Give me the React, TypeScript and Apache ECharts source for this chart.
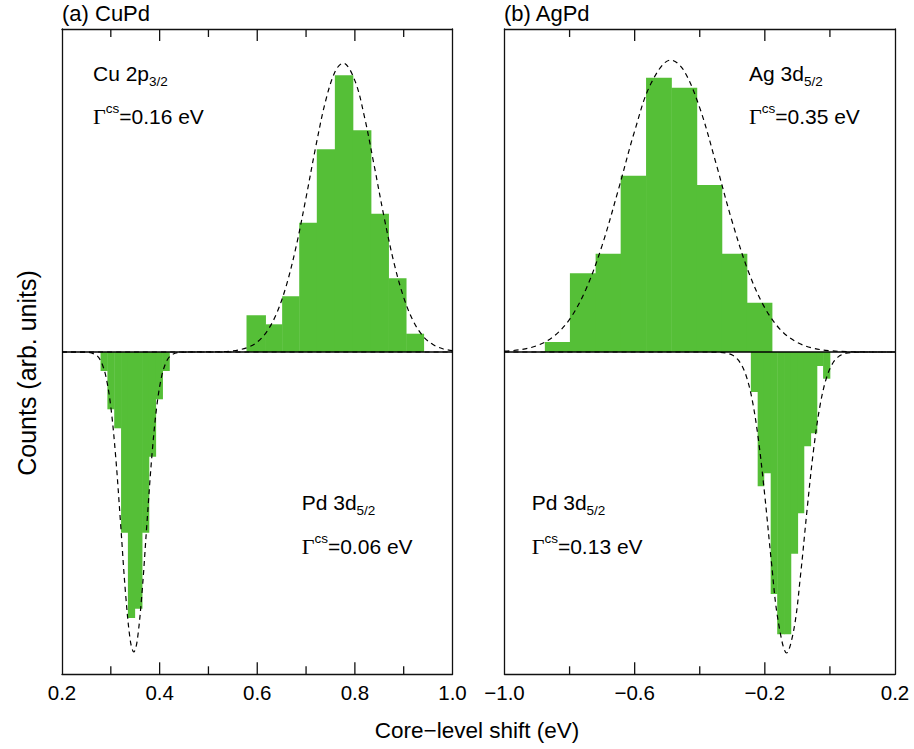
import React, { useEffect, useRef } from "react";
import * as echarts from "echarts";

// ---------- data ----------
// (a) CuPd, Cu 2p3/2 histogram (bin edges in eV, counts in arb. units)
const cuEdges = [0.578, 0.617, 0.651, 0.686, 0.722, 0.759, 0.796, 0.833, 0.869, 0.905, 0.941];
const cuCounts = [0.367, 0.277, 0.557, 1.293, 2.027, 2.767, 2.217, 1.383, 0.737, 0.183];
// (a) CuPd, Pd 3d5/2 histogram (drawn downward)
const pdAEdges = [0.279, 0.293, 0.307, 0.321, 0.335, 0.349, 0.364, 0.378, 0.392, 0.406, 0.42];
const pdACounts = [-0.19, -0.573, -0.763, -1.807, -2.66, -2.567, -1.807, -1.047, -0.473, -0.19];
// (b) AgPd, Ag 3d5/2 histogram
const agEdges = [-0.876, -0.799, -0.72, -0.643, -0.565, -0.487, -0.409, -0.332, -0.255, -0.178];
const agCounts = [0.1, 0.787, 0.983, 1.763, 2.743, 2.643, 1.67, 0.983, 0.493];
// (b) AgPd, Pd 3d5/2 histogram (drawn downward)
const pdBEdges = [-0.243, -0.222, -0.203, -0.182, -0.162, -0.141, -0.12, -0.099, -0.08, -0.059, -0.04, -0.021, 0.0];
const pdBCounts = [-0.4, -1.343, -1.213, -2.42, -2.823, -2.823, -2.017, -1.613, -0.943, -0.813, -0.14, -0.267];

// dashed fitted curves
const cuCurveX = [0.2, 0.3, 0.4, 0.5, 0.55, 0.58, 0.6, 0.62, 0.64, 0.66, 0.68, 0.7, 0.72, 0.74, 0.76, 0.776, 0.8, 0.82, 0.84, 0.86, 0.88, 0.9, 0.92, 0.94, 0.96, 0.98, 1.0];
const cuCurveY = [0, 0, 0, 0.001, 0.011, 0.045, 0.1, 0.207, 0.389, 0.672, 1.063, 1.545, 2.057, 2.51, 2.81, 2.89, 2.714, 2.343, 1.853, 1.345, 0.894, 0.546, 0.305, 0.156, 0.074, 0.032, 0.013];
const pdACurveX = [0.2, 0.25, 0.27, 0.28, 0.29, 0.3, 0.31, 0.32, 0.33, 0.34, 0.347, 0.354, 0.364, 0.374, 0.384, 0.394, 0.404, 0.414, 0.424, 0.44, 0.47, 0.6, 0.8, 1.0];
const pdACurveY = [0, -0.002, -0.031, -0.095, -0.247, -0.549, -1.047, -1.713, -2.402, -2.889, -3.0, -2.889, -2.402, -1.713, -1.047, -0.549, -0.247, -0.095, -0.031, -0.004, 0, 0, 0, 0];
const agCurveX = [-1.0, -0.95, -0.9, -0.85, -0.8, -0.75, -0.7, -0.65, -0.6, -0.55, -0.489, -0.45, -0.4, -0.35, -0.3, -0.25, -0.2, -0.15, -0.1, -0.05, 0.0, 0.05, 0.1, 0.15, 0.2];
const agCurveY = [0.008, 0.024, 0.064, 0.153, 0.327, 0.625, 1.066, 1.624, 2.21, 2.684, 2.92, 2.821, 2.441, 1.886, 1.3, 0.8, 0.441, 0.216, 0.095, 0.037, 0.013, 0.004, 0.001, 0, 0];
const pdBCurveX = [-1.0, -0.6, -0.4, -0.35, -0.32, -0.3, -0.28, -0.26, -0.24, -0.22, -0.2, -0.18, -0.16, -0.133, -0.11, -0.09, -0.07, -0.05, -0.03, -0.01, 0.01, 0.03, 0.05, 0.08, 0.12, 0.2];
const pdBCurveY = [0, 0, 0, -0.001, -0.01, -0.031, -0.087, -0.213, -0.46, -0.869, -1.44, -2.095, -2.67, -3.01, -2.76, -2.222, -1.57, -0.972, -0.528, -0.252, -0.105, -0.038, -0.012, -0.002, 0, 0];

// axis ranges and tick marks
const xTicksA = [0.2, 1.0];
const xTicksB = [-1.0, 0.2];
const yRange = [-3.223, 3.23];
const majorTicksA = [0.4, 0.6, 0.8];
const minorTicksA = [0.3, 0.5, 0.7, 0.9];
const majorTicksB = [-0.6, -0.2];
const minorTicksB = [-0.8, -0.4, 0.0];

const FONT = "'Liberation Sans', Arial, Helvetica, sans-serif";
const SERIF = "'Liberation Serif', 'Times New Roman', serif";
const GREEN = "#55bf37";
const INK = "#111";

function hist(edges: number[], counts: number[]) {
  return counts.map((c, i) => [edges[i], edges[i + 1], c]);
}
function pts(xs: number[], ys: number[]) {
  return xs.map((x, i) => [x, ys[i]]);
}

const renderBar = (params: any, api: any) => {
  const x0 = api.value(0);
  const x1 = api.value(1);
  const h = api.value(2);
  const p0 = api.coord([x0, h]);
  const p1 = api.coord([x1, 0]);
  const top = Math.min(p0[1], p1[1]);
  const height = Math.abs(p1[1] - p0[1]);
  return {
    type: "rect",
    shape: { x: p0[0], y: top, width: p1[0] - p0[0] + 0.4, height },
    style: { fill: GREEN },
  };
};

// inward tick marks on bottom and top edges; data = [tickValue, isMajor]
const renderTick = (params: any, api: any) => {
  const v = api.value(0);
  const major = api.value(1) > 0.5;
  const len = major ? 12 : 8;
  const b = api.coord([v, yRange[0]]);
  const t = api.coord([v, yRange[1]]);
  return {
    type: "group",
    children: [
      { type: "rect", shape: { x: b[0] - 0.65, y: b[1] - len, width: 1.3, height: len }, style: { fill: INK } },
      { type: "rect", shape: { x: t[0] - 0.65, y: t[1], width: 1.3, height: len }, style: { fill: INK } },
    ],
  };
};

function tickData(major: number[], minor: number[]) {
  return [...major.map((v) => [v, 1]), ...minor.map((v) => [v, 0])];
}

function xAxisCfg(grid: number, ticks: number[], interval: number, pos: "top" | "bottom") {
  return {
    type: "value",
    gridIndex: grid,
    position: pos,
    min: ticks[0],
    max: ticks[1],
    interval,
    axisLine: { show: true, onZero: false, lineStyle: { color: INK, width: 1.3 } },
    axisTick: { show: false },
    minorTick: { show: false },
    splitLine: { show: false },
    minorSplitLine: { show: false },
    axisLabel: {
      show: pos === "bottom",
      fontSize: 20.5,
      fontFamily: FONT,
      color: "#000",
      margin: 8,
      showMinLabel: true,
      showMaxLabel: true,
      formatter: (v: number) => (v < -1e-9 ? "\u2212" : "") + Math.abs(v).toFixed(1),
    },
  };
}

function yAxisCfg(grid: number, pos: "left" | "right") {
  return {
    type: "value",
    gridIndex: grid,
    position: pos,
    min: yRange[0],
    max: yRange[1],
    axisLine: { show: true, onZero: false, lineStyle: { color: INK, width: 1.3 } },
    axisTick: { show: false },
    axisLabel: { show: false },
    splitLine: { show: false },
  };
}

function label(x: number, y: number, main: string, sub: string) {
  return {
    type: "text",
    x,
    y,
    z: 100,
    style: {
      text: `{m|${main}}{s|${sub}}`,
      rich: {
        m: { fontSize: 21, lineHeight: 30, fontFamily: FONT, fill: "#000" },
        s: { fontSize: 13.5, verticalAlign: "bottom", fontFamily: FONT, fill: "#000" },
      },
      align: "left",
      verticalAlign: "middle",
      fill: "#000",
    },
  };
}

function gammaLabel(x: number, y: number, value: string) {
  return {
    type: "text",
    x,
    y,
    z: 100,
    style: {
      text: `{g|\u0393}{c|cs}{m|=${value}}`,
      rich: {
        g: { fontSize: 22, lineHeight: 30, fontFamily: SERIF, fill: "#000" },
        c: { fontSize: 13.5, verticalAlign: "top", fontFamily: FONT, fill: "#000" },
        m: { fontSize: 21, lineHeight: 30, fontFamily: FONT, fill: "#000" },
      },
      align: "left",
      verticalAlign: "middle",
      fill: "#000",
    },
  };
}

export default function App() {
  const ref = useRef<HTMLDivElement>(null);

  useEffect(() => {
    if (!ref.current) return;
    const chart = echarts.init(ref.current, null, { renderer: "svg" });

    const dashed = { color: "#000", width: 1.2, type: [5, 4] as any };
    const zero = { color: "#000", width: 1.3 };

    const option: any = {
      animation: false,
      backgroundColor: "#fff",
      grid: [
        { left: 62, top: 29, width: 390.5, height: 645.3, show: false },
        { left: 504.5, top: 29, width: 390.5, height: 645.3, show: false },
      ],
      xAxis: [
        xAxisCfg(0, xTicksA, 0.2, "bottom"),
        xAxisCfg(0, xTicksA, 0.2, "top"),
        xAxisCfg(1, xTicksB, 0.4, "bottom"),
        xAxisCfg(1, xTicksB, 0.4, "top"),
      ],
      yAxis: [yAxisCfg(0, "left"), yAxisCfg(0, "right"), yAxisCfg(1, "left"), yAxisCfg(1, "right")],
      series: [
        { type: "custom", xAxisIndex: 0, yAxisIndex: 0, renderItem: renderBar, encode: { x: [0, 1], y: 2 }, data: hist(cuEdges, cuCounts), z: 2 },
        { type: "custom", xAxisIndex: 0, yAxisIndex: 0, renderItem: renderBar, encode: { x: [0, 1], y: 2 }, data: hist(pdAEdges, pdACounts), z: 2 },
        { type: "custom", xAxisIndex: 2, yAxisIndex: 2, renderItem: renderBar, encode: { x: [0, 1], y: 2 }, data: hist(agEdges, agCounts), z: 2 },
        { type: "custom", xAxisIndex: 2, yAxisIndex: 2, renderItem: renderBar, encode: { x: [0, 1], y: 2 }, data: hist(pdBEdges, pdBCounts), z: 2 },
        { type: "line", xAxisIndex: 0, yAxisIndex: 0, data: [[xTicksA[0], 0], [xTicksA[1], 0]], symbol: "none", lineStyle: zero, z: 3 },
        { type: "line", xAxisIndex: 2, yAxisIndex: 2, data: [[xTicksB[0], 0], [xTicksB[1], 0]], symbol: "none", lineStyle: zero, z: 3 },
        { type: "line", xAxisIndex: 0, yAxisIndex: 0, data: pts(cuCurveX, cuCurveY), symbol: "none", smooth: 0.35, lineStyle: dashed, z: 4 },
        { type: "line", xAxisIndex: 0, yAxisIndex: 0, data: pts(pdACurveX, pdACurveY), symbol: "none", smooth: 0.35, lineStyle: dashed, z: 4 },
        { type: "line", xAxisIndex: 2, yAxisIndex: 2, data: pts(agCurveX, agCurveY), symbol: "none", smooth: 0.35, lineStyle: dashed, z: 4 },
        { type: "line", xAxisIndex: 2, yAxisIndex: 2, data: pts(pdBCurveX, pdBCurveY), symbol: "none", smooth: 0.35, lineStyle: dashed, z: 4 },
        { type: "custom", xAxisIndex: 0, yAxisIndex: 0, renderItem: renderTick, encode: { x: 0, y: 1 }, data: tickData(majorTicksA, minorTicksA), clip: false, silent: true, z: 6 },
        { type: "custom", xAxisIndex: 2, yAxisIndex: 2, renderItem: renderTick, encode: { x: 0, y: 1 }, data: tickData(majorTicksB, minorTicksB), clip: false, silent: true, z: 6 },
      ],
      graphic: [
        { type: "text", x: 62, y: 13, style: { text: "(a) CuPd", fontSize: 22, fontFamily: FONT, fill: "#000", align: "left", verticalAlign: "middle" } },
        { type: "text", x: 504, y: 13, style: { text: "(b) AgPd", fontSize: 22, fontFamily: FONT, fill: "#000", align: "left", verticalAlign: "middle" } },
        { type: "text", x: 27, y: 373, rotation: Math.PI / 2, style: { text: "Counts (arb. units)", fontSize: 25, fontFamily: FONT, fill: "#000", align: "center", verticalAlign: "middle" } },
        { type: "text", x: 477, y: 730, style: { text: "Core\u2212level shift (eV)", fontSize: 22.5, fontFamily: FONT, fill: "#000", align: "center", verticalAlign: "middle" } },
        label(93, 73, "Cu 2p", "3/2"),
        gammaLabel(93, 116, "0.16 eV"),
        label(749, 73, "Ag 3d", "5/2"),
        gammaLabel(749, 116, "0.35 eV"),
        label(301.7, 502, "Pd 3d", "5/2"),
        gammaLabel(301.7, 546, "0.06 eV"),
        label(531.7, 502, "Pd 3d", "5/2"),
        gammaLabel(531.7, 546, "0.13 eV"),
      ],
    };

    chart.setOption(option);
    return () => chart.dispose();
  }, []);

  return (
    <div
      ref={ref}
      style={{ position: "fixed", left: 0, top: 0, width: 914, height: 749, background: "#fff" }}
    />
  );
}
